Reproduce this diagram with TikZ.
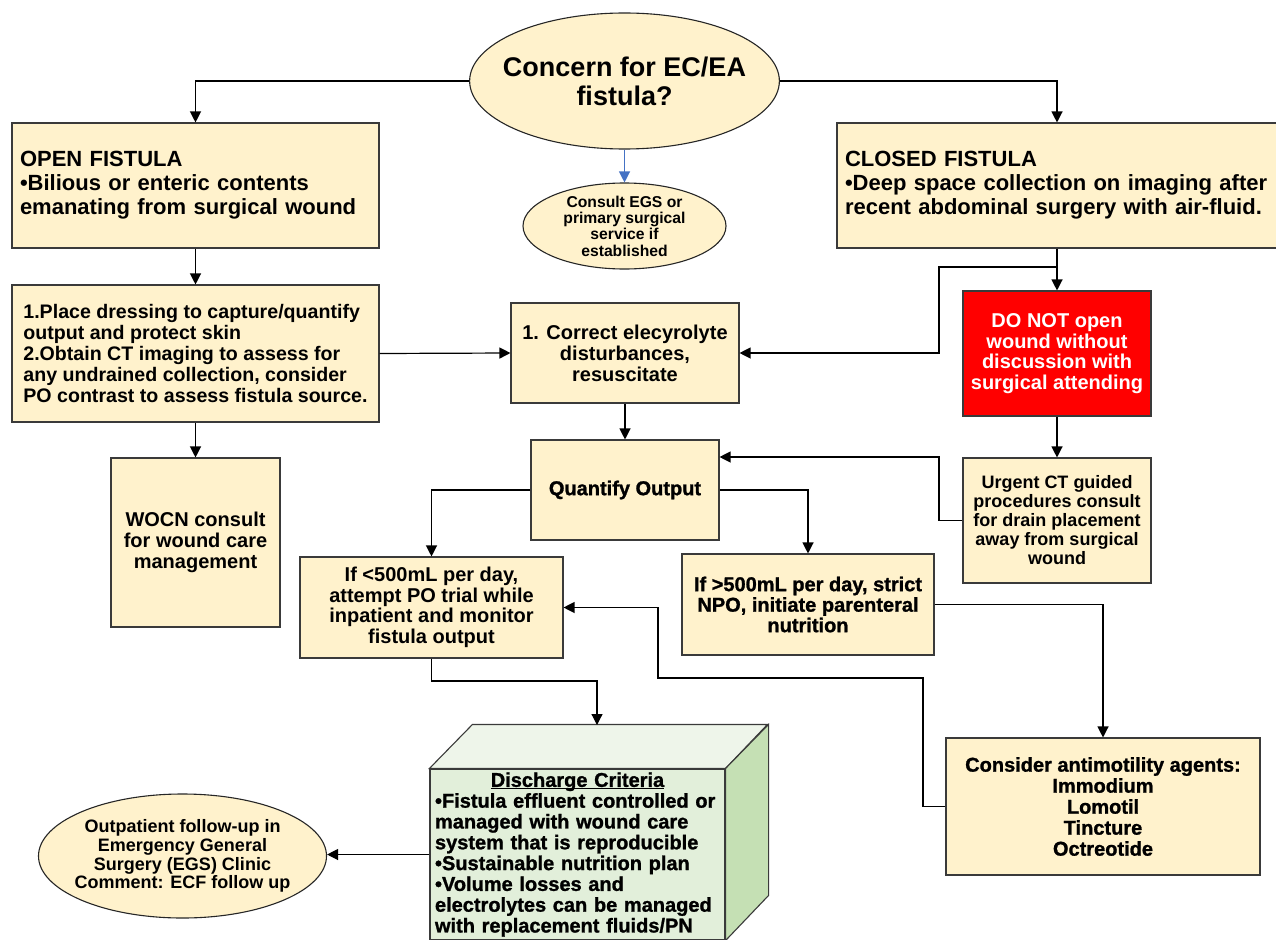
\documentclass[tikz,border=0pt]{standalone}
\usepackage{fontspec}
\setmainfont{Liberation Sans}
\newfontfamily\heavyfont{Liberation Sans}[BoldFeatures={FakeBold=1.2}]
\usepackage{xcolor}
\usetikzlibrary{positioning,arrows.meta,shapes.geometric}
\definecolor{fcbeige}{HTML}{FFF2CC}
\definecolor{fcred}{HTML}{FF0000}
\definecolor{fcblue}{HTML}{4472C4}
\definecolor{fcgreen}{HTML}{E2EFDA}
\definecolor{fcgreenlt}{HTML}{EEF5EA}
\definecolor{fcgreendk}{HTML}{C5E0B4}
\definecolor{fcedge}{HTML}{3A3A3A}
\newcommand{\fcfont}[2]{\fontsize{#1}{#2}\selectfont\bfseries}
\newcommand{\fcul}[1]{\setbox0\hbox{#1}\rlap{\rule[-2.4pt]{\wd0}{1.2pt}}\box0}

\begin{document}
\begin{tikzpicture}[x=1pt,y=-1pt,line width=1.2pt,
  box/.style={draw=fcedge,fill=fcbeige,line width=1.1pt,align=center,inner sep=0pt},
  leftbox/.style={box,align=left,inner xsep=8pt},
  oval/.style={ellipse,draw=black!85,fill=fcbeige,line width=1.1pt,align=center,inner sep=0pt},
  arr/.style={-{Triangle[length=11pt,width=11pt]}}]
  \useasboundingbox[fill=white] (0,0) rectangle (1276,939);

  \node[oval,inner xsep=-12pt,minimum width=309pt,minimum height=136pt,font=\fcfont{27}{29}] (concern) at (624.5,81) {Concern for EC/EA\\fistula?};
  \node[oval,minimum width=203pt,minimum height=86pt,font=\fcfont{15.7}{16.3}] (consult) at (624.5,226) {Consult EGS or\\primary surgical\\service if\\established};

  \node[leftbox,text width=351pt,minimum height=125pt,font=\fcfont{22}{24}] (open) at (195.5,185.5) {OPEN FISTULA\\•Bilious or enteric contents\\emanating from surgical wound};
  \node[leftbox,text width=424pt,minimum height=125pt,font=\fcfont{22}{24}] (closed) at (1057,185.5) {CLOSED FISTULA\\•Deep space collection on imaging after\\recent abdominal surgery with air-fluid.};

  \node[box,align=left,minimum width=367pt,minimum height=137pt,font=\fcfont{19.6}{21}] (dressing) at (195.5,353.5) {1.Place dressing to capture/quantify\\output and protect skin\\2.Obtain CT imaging to assess for\\any undrained collection, consider\\PO contrast to assess fistula source.};
  \node[box,minimum width=228pt,minimum height=100pt,font=\fcfont{20}{21}] (correct) at (625,353) {1. Correct elecyrolyte\\disturbances,\\resuscitate};
  \node[box,fill=fcred,text=white,minimum width=188pt,minimum height=125pt,font=\fcfont{20}{20.6}] (donot) at (1057,353.5) {DO NOT open\\wound without\\discussion with\\surgical attending};
  \node[box,minimum width=188pt,minimum height=125pt,font=\fcfont{18}{19}] (urgent) at (1057,520.5) {Urgent CT guided\\procedures consult\\for drain placement\\away from surgical\\wound};
  \node[box,minimum width=169pt,minimum height=169pt,font=\fcfont{20}{21}] (wocn) at (195.5,542.5) {WOCN consult\\for wound care\\management};
  \node[box,minimum width=188pt,minimum height=100pt,font=\heavyfont\fcfont{20}{20}] (quantify) at (625,490) {Quantify Output};
  \node[box,minimum width=263pt,minimum height=101pt,font=\fcfont{20}{20.5}] (low) at (431.5,607.5) {If <500mL per day,\\attempt PO trial while\\inpatient and monitor\\fistula output};
  \node[box,minimum width=252pt,minimum height=101pt,font=\heavyfont\fcfont{20}{20.5}] (high) at (808,604.5) {If >500mL per day, strict\\NPO, initiate parenteral\\nutrition};
  \node[box,minimum width=314pt,minimum height=137pt,font=\heavyfont\fcfont{20}{21}] (antimot) at (1103,806.5) {Consider antimotility agents:\\Immodium\\Lomotil\\Tincture\\Octreotide};

  % discharge block drawn as a cube
  \node[draw=fcedge,fill=fcgreen,line width=1.1pt,minimum width=295pt,minimum height=171pt,text width=285pt,inner xsep=5pt,inner ysep=0pt,align=left,font=\heavyfont\fcfont{20}{20.8}] (discharge) at (577.5,854.5)
    {\makebox[\linewidth]{\fcul{Discharge Criteria}}\\•Fistula effluent controlled or\\managed with wound care\\system that is reproducible\\•Sustainable nutrition plan\\•Volume losses and\\electrolytes can be managed\\with replacement fluids/PN};
  \filldraw[fill=fcgreenlt,draw=fcedge,line width=1.1pt] (discharge.north west) -- ++(43,-44) -- ++(295,0) -- (discharge.north east) -- cycle;
  \filldraw[fill=fcgreendk,draw=fcedge,line width=1.1pt] (discharge.north east) -- ++(43,-44) -- ++(0,171) -- (discharge.south east) -- cycle;
  \node[oval,inner xsep=-6pt,minimum width=279pt,minimum height=124pt,font=\fcfont{18}{18.7}] (outpt) at (182.5,856) {Outpatient follow-up in\\Emergency General\\Surgery (EGS) Clinic\\Comment: ECF follow up};

  % connectors
  \draw[arr] (concern.west) -| (open.north);
  \draw[arr] (concern.east) -| (closed.north);
  \draw[arr,fcblue] (concern.south) -- (consult.north);
  \foreach \a/\b in {open/dressing,dressing/wocn,correct/quantify,closed/donot,donot/urgent}
    \draw[arr] (\a.south) -- (\b.north);
  \draw[arr] (dressing.east) -- (correct.west);
  \coordinate (csplit) at (1057,267);
  \coordinate (cbend) at (939,267);
  \draw[arr] (csplit) -- (cbend) |- (correct.east);
  \coordinate (ubend) at (939,457);
  \draw[arr] (urgent.west) -| (ubend) -- (ubend -| quantify.east);
  \draw[arr] (quantify.west) -| (low.north);
  \draw[arr] (quantify.east) -| (high.north);
  \draw[arr] (high.east) -| (antimot.north);
  \coordinate (abend) at (923,678);
  \coordinate (lbend) at (658,678);
  \draw[arr] (antimot.west) -| (abend) -- (lbend) |- (low.east);
  \coordinate (ldrop) at (431.5,681);
  \coordinate (dtop) at (597,725);
  \draw[arr] (low.south) -- (ldrop) -| (dtop);
  \draw[arr] (discharge.west) -- (discharge.west -| outpt.east);
\end{tikzpicture}
\end{document}
